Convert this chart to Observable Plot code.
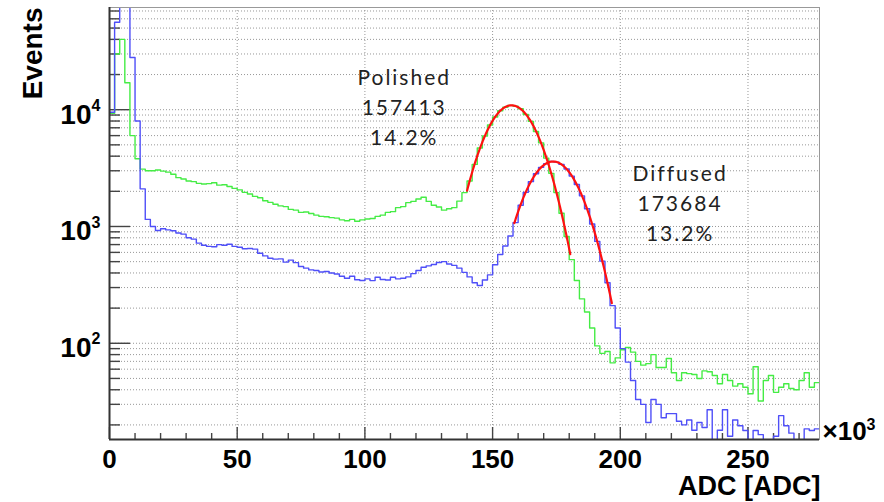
<!DOCTYPE html>
<html><head><meta charset="utf-8">
<script src="https://cdn.jsdelivr.net/npm/d3@7"></script>
<script src="https://cdn.jsdelivr.net/npm/@observablehq/plot@0.6"></script>
<style>
body{margin:0;background:#fff;}
g[font-family^="Lato"] text{letter-spacing:2px;}
</style>
</head><body><div id="chart"></div>
<script>
// ---- data ----
const binWidth = 2000;            // ADC per bin
const xDomain = [0, 278000];
const yDomain = [15, 75000];
// Polished (green) histogram counts, bins of 2000 ADC starting at 0
const polishedCounts = [
 9300,30000,40000,17000,6000,3800,3100,3000,3000,3050,
 2980,2920,2800,2620,2550,2450,2420,2340,2310,2330,
 2370,2260,2280,2200,2120,2060,1960,1900,1810,1760,
 1660,1610,1550,1500,1480,1400,1380,1320,1330,1290,
 1250,1220,1210,1190,1180,1140,1120,1150,1110,1140,
 1160,1170,1220,1250,1320,1340,1450,1480,1600,1640,
 1720,1780,1640,1520,1470,1380,1420,1450,1650,1950,
 2450,3400,4700,5950,7400,8650,9800,10500,10900,10700,
 10200,9100,7950,6500,5200,3850,2850,1950,1300,820,
 520,345,240,185,135,95,82,85,68,75,
 88,92,84,70,65,67,80,62,62,74,
 56,48,56,55,54,50,58,57,53,45,
 54,48,43,45,42,37,63,32,48,53,
 38,42,45,41,40,48,56,42,46
];
// Diffused (blue) histogram counts
const diffusedCounts = [
 9500,56000,120000,100000,28000,8000,2100,1150,1000,925,
 955,935,920,880,860,800,780,720,690,675,
 670,700,690,705,675,665,645,648,640,590,
 560,535,525,528,495,515,490,455,440,425,
 420,408,412,400,392,375,360,375,350,345,
 356,344,368,352,348,368,356,360,370,395,
 420,448,460,472,492,500,478,465,440,405,
 370,330,312,348,385,470,575,680,830,1080,
 1520,1960,2420,2830,3210,3450,3600,3560,3400,3110,
 2700,2290,1830,1420,1050,745,505,330,210,135,
 90,69,48,33,30,21,33,30,23,25,
 25,21.5,20,22,18,21,19,27,0,18,
 27,16,22,19.7,17.9,0,17.9,16.5,0,0,
 16,24,19.7,17,0,0,18.5,17.9,18.5
];
// Gaussian fits
const fitNames = ["Polished", "Diffused"];
const fitMeans = [157413, 173684];
const fitResolution = [0.142, 0.132];   // FWHM / mean
const fitAmplitudes = [10900, 3600];
const fitFrom = [140000, 158500];
const fitTo = [180500, 196700];
// annotation anchors (data units)
const labelX = [115400, 223400];
const labelY = [10970, 1635];
// ticks
const yMajorTicks = [100, 1000, 10000];
const xMajorTicks = [0, 50000, 100000, 150000, 200000, 250000];

// ---- build ----
const W = 884, H = 502, mL = 109, mR = 65, mT = 7, mB = 63;
const plotW = W - mL - mR, plotH = H - mT - mB;
const floorVal = 1; // empty bins drawn down to the bottom
function steps(counts) {
  const pts = counts.map((c, i) => ({x: i * binWidth, y: c > 0 ? c : floorVal}));
  pts.push({x: counts.length * binWidth, y: pts[pts.length - 1].y});
  return pts;
}
const gridY = [];
for (let e = 1; e <= 4; e++) for (let m = 1; m <= 9; m++) {
  const v = m * Math.pow(10, e);
  if (v >= yDomain[0] && v <= yDomain[1]) gridY.push(v);
}
const minorY = gridY.filter(v => !yMajorTicks.includes(v));
const minorX = d3.range(10000, xDomain[1], 10000).filter(v => v % 50000 !== 0);
const fitCurves = fitNames.map((name, k) => {
  const s = fitResolution[k] * fitMeans[k] / 2.3548;
  return d3.range(fitFrom[k], fitTo[k] + 1, 200).map(x => ({
    name, x, y: fitAmplitudes[k] * Math.exp(-((x - fitMeans[k]) ** 2) / (2 * s * s))
  }));
}).flat();
const labels = fitNames.map((n, k) => ({
  x: labelX[k], y: labelY[k],
  text: `${n}\n${fitMeans[k]}\n${(fitResolution[k] * 100).toFixed(1)}%`
}));
const font = "Liberation Sans, Arial, Helvetica, sans-serif";
const bold = {fontFamily: font, fontWeight: "bold", fill: "#000"};

const chart = Plot.plot({
  width: W, height: H,
  marginLeft: mL, marginRight: mR, marginTop: mT, marginBottom: mB,
  x: {domain: xDomain, axis: null},
  y: {type: "log", domain: yDomain, axis: null},
  marks: [
    Plot.ruleY(gridY, {y: d => d, stroke: "#8c8c8c", strokeDasharray: "1,2", strokeWidth: 0.9}),
    Plot.ruleX(xMajorTicks.slice(1), {x: d => d, stroke: "#8c8c8c", strokeDasharray: "1,2", strokeWidth: 0.9}),
    Plot.tickY(yMajorTicks, {y: d => d, insetRight: plotW - 21, stroke: "#444", strokeWidth: 1.4}),
    Plot.tickY(minorY, {y: d => d, insetRight: plotW - 11, stroke: "#444", strokeWidth: 1.4}),
    Plot.tickX(xMajorTicks, {x: d => d, insetTop: plotH - 12, stroke: "#444", strokeWidth: 1.4}),
    Plot.tickX(minorX, {x: d => d, insetTop: plotH - 6, stroke: "#444", strokeWidth: 1.4}),
    Plot.line(steps(polishedCounts), {x: "x", y: "y", curve: "step-after", stroke: "#45ec45", strokeWidth: 1.4, clip: true}),
    Plot.line(steps(diffusedCounts), {x: "x", y: "y", curve: "step-after", stroke: "#4f4ff8", strokeWidth: 1.4, clip: true}),
    Plot.line(fitCurves, {x: "x", y: "y", z: "name", stroke: "#ff1010", strokeWidth: 2.2, clip: true}),
    Plot.frame({stroke: "#999", strokeWidth: 1}),
    Plot.ruleX([xDomain[0]], {stroke: "#333", strokeWidth: 2}),
    Plot.ruleY([yDomain[0]], {stroke: "#333", strokeWidth: 2}),
    Plot.text(labels, {x: "x", y: "y", text: "text", lineHeight: 1.43, lineAnchor: "middle",
      fontFamily: "Lato, sans-serif", fontSize: 21, fill: "#222", textAnchor: "middle"}),
    // y tick labels: base and exponent
    Plot.text(yMajorTicks, {y: d => d, frameAnchor: "left", textAnchor: "end", dx: -18, dy: 5,
      lineAnchor: "middle", text: () => "10", fontSize: 28, ...bold}),
    Plot.text(yMajorTicks, {y: d => d, frameAnchor: "left", textAnchor: "start", dx: -18, dy: -4,
      lineAnchor: "middle", text: d => String(Math.round(Math.log10(d))), fontSize: 16, ...bold}),
    // x tick labels
    Plot.text(xMajorTicks, {x: d => d, frameAnchor: "bottom", dy: 20, lineAnchor: "middle",
      text: d => String(d / 1000), fontSize: 26, ...bold}),
    // x10^3 multiplier
    Plot.text(["\u00d710"], {frameAnchor: "bottom-right", textAnchor: "start", dx: 3, dy: -8, lineAnchor: "middle",
      fontSize: 26, ...bold}),
    Plot.text(["3"], {frameAnchor: "bottom-right", textAnchor: "start", dx: 47, dy: -15, lineAnchor: "middle",
      fontSize: 16, ...bold}),
    Plot.text(["ADC [ADC]"], {frameAnchor: "bottom-right", textAnchor: "end", dx: 1, dy: 47, lineAnchor: "middle",
      fontSize: 27, ...bold}),
    Plot.text(["Events"], {frameAnchor: "top-left", textAnchor: "end", rotate: -90, dx: -76, lineAnchor: "middle",
      fontSize: 28, ...bold})
  ]
});
document.getElementById("chart").appendChild(chart);
</script>
</body></html>
